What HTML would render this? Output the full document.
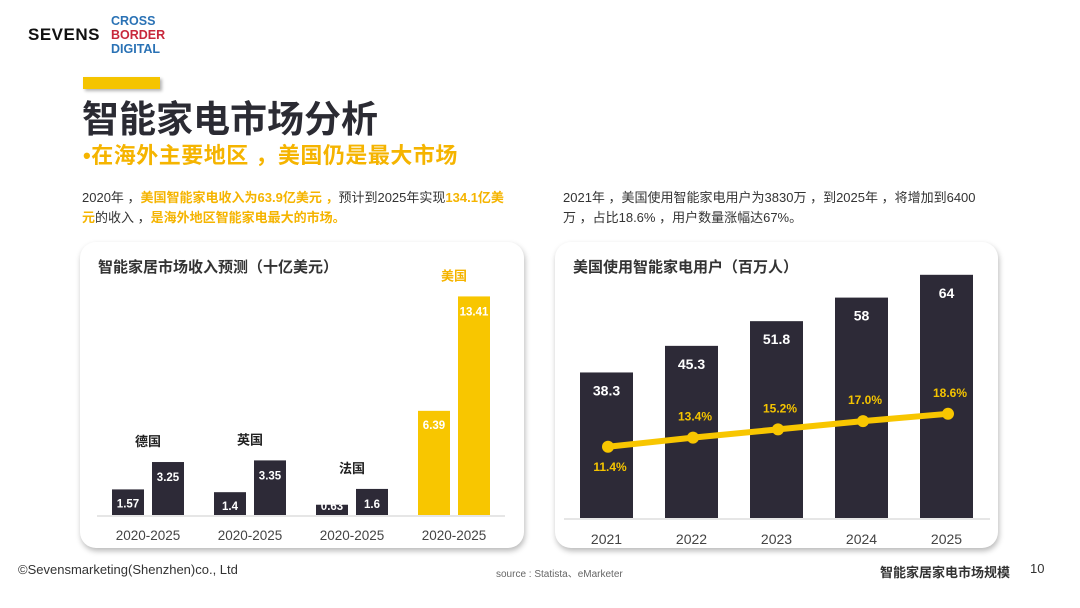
<!DOCTYPE html>
<html><head><meta charset="utf-8">
<style>
*{margin:0;padding:0;box-sizing:border-box}
body{width:1080px;height:608px;background:#fff;position:relative;overflow:hidden;font-family:"Liberation Sans","Noto Sans CJK SC",sans-serif;color:#333}
.abs{position:absolute}
.card{position:absolute;background:#fff;border-radius:16px;box-shadow:1px 3px 6px rgba(0,0,0,0.28)}
</style></head><body>
<div class="abs" style="left:28px;top:25px;font-weight:bold;font-size:17px;letter-spacing:0.5px;color:#111">SEVENS</div>
<div class="abs" style="left:111px;top:14px;font-weight:bold;font-size:12.5px;line-height:14px;color:#2a72b5">CROSS<br><span style="color:#c8283c">BORDER</span><br>DIGITAL</div>
<div class="abs" style="left:83px;top:77px;width:77px;height:12px;background:#f5c400;box-shadow:2px 2px 3px rgba(0,0,0,0.3)"></div>
<div class="abs" style="left:82px;top:98px;font-size:37px;font-weight:bold;color:#2b2b33;line-height:44px">智能家电市场分析</div>
<div class="abs" style="left:83px;top:142px;font-size:22px;font-weight:bold;color:#f5b400;line-height:28px;letter-spacing:0.5px;white-space:nowrap">•在海外主要地区 ，美国仍是最大市场</div>
<div class="abs" style="left:82px;top:188px;font-size:13px;line-height:20px;color:#333;white-space:nowrap">2020年 ，<b style="color:#f5b400">美国智能家电收入为63.9亿美元 ，</b>预计到2025年实现<b style="color:#f5b400">134.1亿美</b><br><b style="color:#f5b400">元</b>的收入 ，<b style="color:#f5b400">是海外地区智能家电最大的市场。</b></div>
<div class="abs" style="left:563px;top:188px;font-size:13px;line-height:20px;color:#333;white-space:nowrap">2021年 ，美国使用智能家电用户为3830万 ，到2025年 ，将增加到6400<br>万 ，占比18.6% ，用户数量涨幅达67%。</div>

<div class="card" style="left:80px;top:242px;width:444px;height:306px"></div>
<div class="card" style="left:555px;top:242px;width:443px;height:306px"></div>

<svg class="abs" style="left:0;top:0" width="1080" height="608" id="svg">
<text x="98" y="272" font-size="15" font-weight="bold" fill="#333">智能家居市场收入预测（十亿美元）</text>
<text x="573" y="272" font-size="15" font-weight="bold" fill="#333">美国使用智能家电用户（百万人）</text>
<line x1="97" y1="516" x2="505" y2="516" stroke="#ddd" stroke-width="1.5"/>
<line x1="564" y1="519" x2="990" y2="519" stroke="#ddd" stroke-width="1.5"/>
<g id="left"></g><g id="right"></g>
</svg>

<div class="abs" style="left:18px;top:562px;font-size:13px;color:#333">©Sevensmarketing(Shenzhen)co., Ltd</div>
<div class="abs" style="left:496px;top:565px;font-size:10px;color:#666">source : Statista、eMarketer</div>
<div class="abs" style="left:880px;top:562px;font-size:13px;font-weight:bold;color:#333">智能家居家电市场规模</div>
<div class="abs" style="left:1030px;top:561px;font-size:13px;color:#333">10</div>

<script>
const regions = ['德国','英国','法国','美国'];
const rev2020 = [1.57,1.4,0.63,6.39];
const rev2025 = [3.25,3.35,1.6,13.41];
const revLabels2020 = ['1.57','1.4','0.63','6.39'];
const revLabels2025 = ['3.25','3.35','1.6','13.41'];
const years = ['2021','2022','2023','2024','2025'];
const users = [38.3,45.3,51.8,58,64];
const userLabels = ['38.3','45.3','51.8','58','64'];
const share = [11.4,13.4,15.2,17.0,18.6];
const shareLabels = ['11.4%','13.4%','15.2%','17.0%','18.6%'];

const NS='http://www.w3.org/2000/svg';
function mk(tag,attrs,parent,text){const e=document.createElementNS(NS,tag);for(const k in attrs)e.setAttribute(k,attrs[k]);if(text!==undefined)e.textContent=text;parent.appendChild(e);return e;}

const L=document.getElementById('left');
const lBase=515, lScale=16.3;
const lY=v=>lBase-v*lScale;
const lX=i=>112+i*102;
for(let i=0;i<regions.length;i++){
  const col=i===3?'#f8c600':'#2d2a37';
  const h1=rev2020[i]*lScale, h2=rev2025[i]*lScale;
  const b1=mk('rect',{x:lX(i),y:lY(rev2020[i]),width:32,height:h1,fill:col},L);
  
  
  const b2=mk('rect',{x:lX(i)+40,y:lY(rev2025[i]),width:32,height:h2,fill:col},L);
  
  
  const t1=mk('text',{x:lX(i)+16,y:lY(rev2020[i])+18,'text-anchor':'middle','font-size':11.5,'font-weight':'bold',fill:'#fff'},L,revLabels2020[i]);
  
  
  if(h1<20){t1.setAttribute('y',lBase-5);}
  const t2=mk('text',{x:lX(i)+56,y:lY(rev2025[i])+19,'text-anchor':'middle','font-size':11.5,'font-weight':'bold',fill:'#fff'},L,revLabels2025[i]);
  
  
  const top=Math.min(lY(rev2020[i]),lY(rev2025[i]));
  const rl=mk('text',{x:lX(i)+36,y:top-16,'text-anchor':'middle','font-size':13,'font-weight':'bold',fill:i===3?'#f5b400':'#222'},L,regions[i]);
  
  
  const xl=mk('text',{x:lX(i)+36,y:540,'text-anchor':'middle','font-size':13.5,fill:'#444'},L,'2020-2025');
  
  
}

const R=document.getElementById('right');
const rBase=518, rScale=3.8;
const rY=v=>rBase-v*rScale;
const rX=i=>580+i*85;
const sY=v=>499-v*4.58;
for(let i=0;i<years.length;i++){
  const b=mk('rect',{x:rX(i),y:rY(users[i]),width:53,height:users[i]*rScale,fill:'#2d2a37'},R);
  
  
  const t=mk('text',{x:rX(i)+26.5,y:rY(users[i])+23,'text-anchor':'middle','font-size':14,'font-weight':'bold',fill:'#fff'},R,userLabels[i]);
  
  
  const xl=mk('text',{x:rX(i)+26.5,y:544,'text-anchor':'middle','font-size':14,fill:'#444'},R,years[i]);
  
  
}
let d='';
for(let i=0;i<share.length;i++){d+=(i?'L':'M')+(rX(i)+28)+' '+sY(share[i]);}
const pl=mk('path',{d:d,stroke:'#f8c600','stroke-width':6,fill:'none','stroke-linecap':'round'},R);


for(let i=0;i<share.length;i++){
  const c=mk('circle',{cx:rX(i)+28,cy:sY(share[i]),r:6,fill:'#f8c600'},R);
  
  
  const below=i===0;
  const t=mk('text',{x:rX(i)+30,y:below?sY(share[i])+24:sY(share[i])-17,'text-anchor':'middle','font-size':12,'font-weight':'bold',fill:'#f5c400'},R,shareLabels[i]);
  
  
}
</script>
</body></html>
